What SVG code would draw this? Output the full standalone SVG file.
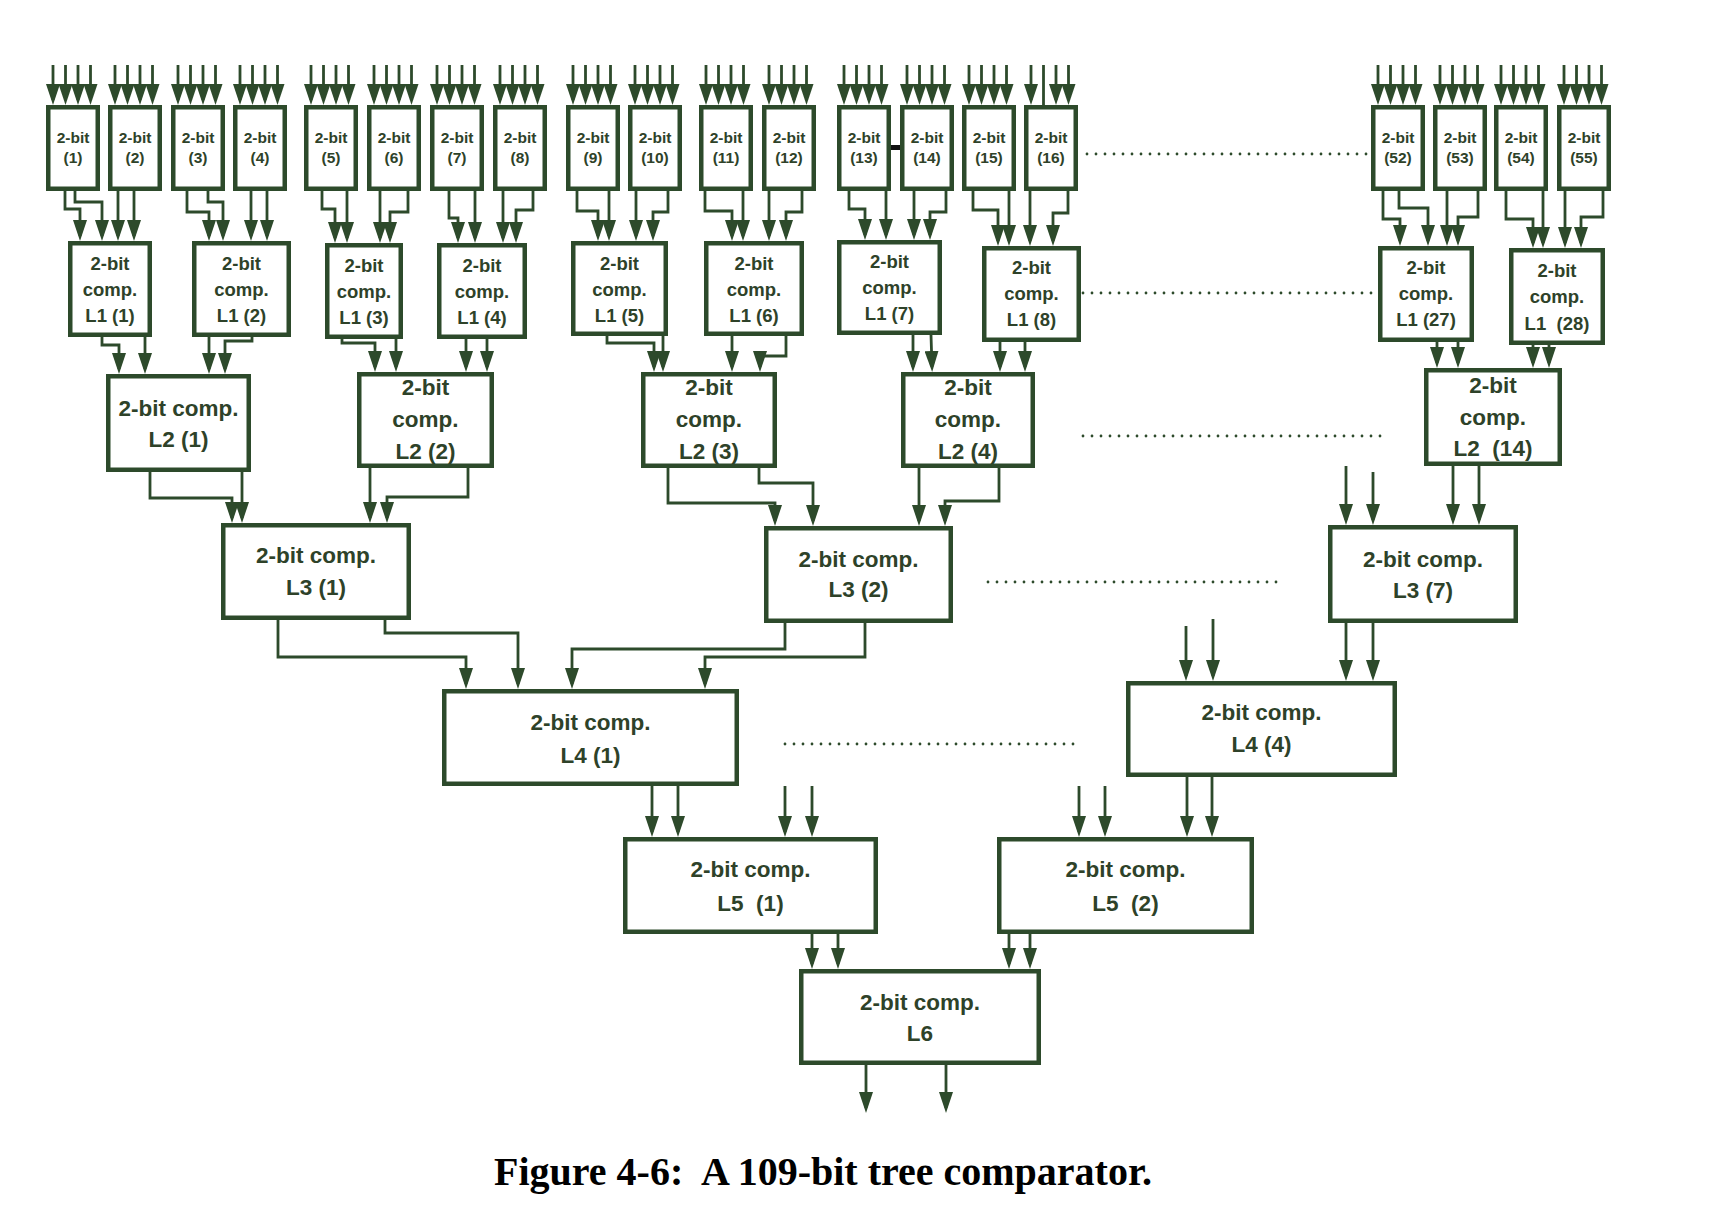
<svg xmlns="http://www.w3.org/2000/svg" width="1716" height="1212" viewBox="0 0 1716 1212">
<style>
.b{fill:#fff;stroke:#2d4a2b;stroke-width:4.5}
.t{font-family:"Liberation Sans",Arial,sans-serif;font-weight:bold;fill:#2e4229;text-anchor:middle}
.s{font-size:15.5px}.m{font-size:18.5px}.l{font-size:22.5px}
.w{fill:none;stroke:#2d4a2b;stroke-width:2.8;marker-end:url(#ah)}
.p{fill:none;stroke:#2d4a2b;stroke-width:2.8}
.dot{fill:none;stroke:#2d4a2b;stroke-width:2.8;stroke-dasharray:0 9;stroke-linecap:round}
.cap{font-family:"Liberation Serif","Times New Roman",serif;font-weight:bold;font-size:40px;fill:#000;text-anchor:middle;white-space:pre}
</style>
<defs>
<marker id="ah" markerUnits="userSpaceOnUse" markerWidth="21" markerHeight="14" viewBox="0 0 21 14" refX="16" refY="7" orient="auto"><path d="M0,0 L21,7 L0,14 z" fill="#2d4a2b"/></marker>
</defs>
<rect width="1716" height="1212" fill="#fff"/>

<g id="connectors">
<path class="w" d="M53,65V100"/><path class="w" d="M65.5,65V100"/><path class="w" d="M78,65V100"/><path class="w" d="M90.5,65V100"/>
<path class="w" d="M115,65V100"/><path class="w" d="M127.5,65V100"/><path class="w" d="M140,65V100"/><path class="w" d="M152.5,65V100"/>
<path class="w" d="M178,65V100"/><path class="w" d="M190.5,65V100"/><path class="w" d="M203,65V100"/><path class="w" d="M215.5,65V100"/>
<path class="w" d="M240,65V100"/><path class="w" d="M252.5,65V100"/><path class="w" d="M265,65V100"/><path class="w" d="M277.5,65V100"/>
<path class="w" d="M311,65V100"/><path class="w" d="M323.5,65V100"/><path class="w" d="M336,65V100"/><path class="w" d="M348.5,65V100"/>
<path class="w" d="M374,65V100"/><path class="w" d="M386.5,65V100"/><path class="w" d="M399,65V100"/><path class="w" d="M411.5,65V100"/>
<path class="w" d="M437,65V100"/><path class="w" d="M449.5,65V100"/><path class="w" d="M462,65V100"/><path class="w" d="M474.5,65V100"/>
<path class="w" d="M500,65V100"/><path class="w" d="M512.5,65V100"/><path class="w" d="M525,65V100"/><path class="w" d="M537.5,65V100"/>
<path class="w" d="M573,65V100"/><path class="w" d="M585.5,65V100"/><path class="w" d="M598,65V100"/><path class="w" d="M610.5,65V100"/>
<path class="w" d="M635,65V100"/><path class="w" d="M647.5,65V100"/><path class="w" d="M660,65V100"/><path class="w" d="M672.5,65V100"/>
<path class="w" d="M706,65V100"/><path class="w" d="M718.5,65V100"/><path class="w" d="M731,65V100"/><path class="w" d="M743.5,65V100"/>
<path class="w" d="M769,65V100"/><path class="w" d="M781.5,65V100"/><path class="w" d="M794,65V100"/><path class="w" d="M806.5,65V100"/>
<path class="w" d="M844,65V100"/><path class="w" d="M856.5,65V100"/><path class="w" d="M869,65V100"/><path class="w" d="M881.5,65V100"/>
<path class="w" d="M907,65V100"/><path class="w" d="M919.5,65V100"/><path class="w" d="M932,65V100"/><path class="w" d="M944.5,65V100"/>
<path class="w" d="M969,65V100"/><path class="w" d="M981.5,65V100"/><path class="w" d="M994,65V100"/><path class="w" d="M1006.5,65V100"/>
<path class="w" d="M1031,65V100"/><path class="p" d="M1043.5,65V106"/><path class="w" d="M1056,65V100"/><path class="w" d="M1068.5,65V100"/>
<path class="w" d="M1378,65V100"/><path class="w" d="M1390.5,65V100"/><path class="w" d="M1403,65V100"/><path class="w" d="M1415.5,65V100"/>
<path class="w" d="M1440,65V100"/><path class="w" d="M1452.5,65V100"/><path class="w" d="M1465,65V100"/><path class="w" d="M1477.5,65V100"/>
<path class="w" d="M1501,65V100"/><path class="w" d="M1513.5,65V100"/><path class="w" d="M1526,65V100"/><path class="w" d="M1538.5,65V100"/>
<path class="w" d="M1564,65V100"/><path class="w" d="M1576.5,65V100"/><path class="w" d="M1589,65V100"/><path class="w" d="M1601.5,65V100"/>

<path class="w" d="M65,191V209H80V236"/><path class="w" d="M75,191V202H102V236"/><path class="w" d="M118,191V236"/><path class="w" d="M134,191V236"/>
<path class="w" d="M187,191V212H209V236"/><path class="w" d="M208,191V202H223V236"/><path class="w" d="M251,191V236"/><path class="w" d="M267,191V236"/>
<path class="w" d="M322,191V209H335V238"/><path class="w" d="M347,191V238"/><path class="w" d="M380,191V238"/><path class="w" d="M408,191V212H390V238"/>
<path class="w" d="M449,191V218H458V238"/><path class="w" d="M475,191V238"/><path class="w" d="M503,191V238"/><path class="w" d="M533,191V210H516V238"/>
<path class="w" d="M577,191V211H598V236"/><path class="w" d="M609,191V236"/><path class="w" d="M636,191V236"/><path class="w" d="M668,191V212H653V236"/>
<path class="w" d="M705,191V211H732V236"/><path class="w" d="M743,191V236"/><path class="w" d="M769,191V236"/><path class="w" d="M802,191V212H786V236"/>
<path class="w" d="M849,191V209H865V235"/><path class="w" d="M886,191V235"/><path class="w" d="M914,191V235"/><path class="w" d="M946,191V212H930V235"/>
<path class="w" d="M973,191V210H998V241"/><path class="w" d="M1009,191V241"/><path class="w" d="M1030,191V241"/><path class="w" d="M1068,191V213H1053V241"/>
<path class="w" d="M1383,191V219H1400V241"/><path class="w" d="M1399,191V208H1428V241"/><path class="w" d="M1447,191V241"/><path class="w" d="M1478,191V217H1458V241"/>
<path class="w" d="M1506,191V219H1533V243"/><path class="w" d="M1543,191V243"/><path class="w" d="M1565,191V243"/><path class="w" d="M1603,191V217H1581V243"/>

<path class="w" d="M102,337V345H119V369"/><path class="w" d="M145,337V369"/><path class="w" d="M209,337V369"/><path class="w" d="M252,337V341H225V369"/>
<path class="w" d="M342,339V343H375V367"/><path class="w" d="M396,339V367"/><path class="w" d="M466,339V367"/><path class="w" d="M487,339V367"/>
<path class="w" d="M607,336V343H654V367"/><path class="w" d="M663,336V367"/><path class="w" d="M732,336V367"/><path class="w" d="M786,336V356H760V367"/>
<path class="w" d="M913,335V367"/><path class="w" d="M931,335L932,367"/><path class="w" d="M1000,342V367"/><path class="w" d="M1025,342V367"/>
<path class="w" d="M1437,342V363"/><path class="w" d="M1458,342V363"/><path class="w" d="M1533,345V363"/><path class="w" d="M1549,345V363"/>

<path class="w" d="M150,472V498H232V518"/><path class="w" d="M242,472V518"/><path class="w" d="M370,468V518"/><path class="w" d="M468,468V497H387V518"/>
<path class="w" d="M668,468V503H775V521"/><path class="w" d="M759,468V483H813V521"/><path class="w" d="M919,468V521"/><path class="w" d="M999,468V501H945V521"/>
<path class="w" d="M1346,466V520"/><path class="w" d="M1373,472V520"/><path class="w" d="M1453,466V520"/><path class="w" d="M1479,466V520"/>

<path class="w" d="M278,620V657H466V684"/><path class="w" d="M385,620V633H518V684"/><path class="w" d="M785,623V649H572V684"/><path class="w" d="M865,623V657H705V684"/>
<path class="w" d="M1186,626V676"/><path class="w" d="M1213,619V676"/><path class="w" d="M1346,623V676"/><path class="w" d="M1373,623V676"/>

<path class="w" d="M652,786V832"/><path class="w" d="M678,786V832"/><path class="w" d="M785,786V832"/><path class="w" d="M812,786V832"/>
<path class="w" d="M1079,786V832"/><path class="w" d="M1105,786V832"/><path class="w" d="M1187,777V832"/><path class="w" d="M1212,777V832"/>

<path class="w" d="M812,934V964"/><path class="w" d="M838,934V964"/><path class="w" d="M1009,934V964"/><path class="w" d="M1030,934V964"/>

<path class="w" d="M866,1065V1108"/><path class="w" d="M946,1065V1108"/>
</g>

<g id="dots">
<path class="dot" d="M1087,154H1368"/>
<path class="dot" d="M1083,293H1377"/>
<path class="dot" d="M1083,436H1381"/>
<path class="dot" d="M988,582H1284"/>
<path class="dot" d="M785,744H1081"/>
<rect x="888" y="145" width="15" height="5" fill="#111"/>
</g>

<g id="n1"><rect class="b" x="48.25" y="107.25" width="49.5" height="81.5"/><text class="t s" x="73" y="143">2-bit</text><text class="t s" x="73" y="163">(1)</text></g>
<g id="n2"><rect class="b" x="110.25" y="107.25" width="49.5" height="81.5"/><text class="t s" x="135" y="143">2-bit</text><text class="t s" x="135" y="163">(2)</text></g>
<g id="n3"><rect class="b" x="173.25" y="107.25" width="49.5" height="81.5"/><text class="t s" x="198" y="143">2-bit</text><text class="t s" x="198" y="163">(3)</text></g>
<g id="n4"><rect class="b" x="235.25" y="107.25" width="49.5" height="81.5"/><text class="t s" x="260" y="143">2-bit</text><text class="t s" x="260" y="163">(4)</text></g>
<g id="n5"><rect class="b" x="306.25" y="107.25" width="49.5" height="81.5"/><text class="t s" x="331" y="143">2-bit</text><text class="t s" x="331" y="163">(5)</text></g>
<g id="n6"><rect class="b" x="369.25" y="107.25" width="49.5" height="81.5"/><text class="t s" x="394" y="143">2-bit</text><text class="t s" x="394" y="163">(6)</text></g>
<g id="n7"><rect class="b" x="432.25" y="107.25" width="49.5" height="81.5"/><text class="t s" x="457" y="143">2-bit</text><text class="t s" x="457" y="163">(7)</text></g>
<g id="n8"><rect class="b" x="495.25" y="107.25" width="49.5" height="81.5"/><text class="t s" x="520" y="143">2-bit</text><text class="t s" x="520" y="163">(8)</text></g>
<g id="n9"><rect class="b" x="568.25" y="107.25" width="49.5" height="81.5"/><text class="t s" x="593" y="143">2-bit</text><text class="t s" x="593" y="163">(9)</text></g>
<g id="n10"><rect class="b" x="630.25" y="107.25" width="49.5" height="81.5"/><text class="t s" x="655" y="143">2-bit</text><text class="t s" x="655" y="163">(10)</text></g>
<g id="n11"><rect class="b" x="701.25" y="107.25" width="49.5" height="81.5"/><text class="t s" x="726" y="143">2-bit</text><text class="t s" x="726" y="163">(11)</text></g>
<g id="n12"><rect class="b" x="764.25" y="107.25" width="49.5" height="81.5"/><text class="t s" x="789" y="143">2-bit</text><text class="t s" x="789" y="163">(12)</text></g>
<g id="n13"><rect class="b" x="839.25" y="107.25" width="49.5" height="81.5"/><text class="t s" x="864" y="143">2-bit</text><text class="t s" x="864" y="163">(13)</text></g>
<g id="n14"><rect class="b" x="902.25" y="107.25" width="49.5" height="81.5"/><text class="t s" x="927" y="143">2-bit</text><text class="t s" x="927" y="163">(14)</text></g>
<g id="n15"><rect class="b" x="964.25" y="107.25" width="49.5" height="81.5"/><text class="t s" x="989" y="143">2-bit</text><text class="t s" x="989" y="163">(15)</text></g>
<g id="n16"><rect class="b" x="1026.25" y="107.25" width="49.5" height="81.5"/><text class="t s" x="1051" y="143">2-bit</text><text class="t s" x="1051" y="163">(16)</text></g>
<g id="n52"><rect class="b" x="1373.25" y="107.25" width="49.5" height="81.5"/><text class="t s" x="1398" y="143">2-bit</text><text class="t s" x="1398" y="163">(52)</text></g>
<g id="n53"><rect class="b" x="1435.25" y="107.25" width="49.5" height="81.5"/><text class="t s" x="1460" y="143">2-bit</text><text class="t s" x="1460" y="163">(53)</text></g>
<g id="n54"><rect class="b" x="1496.25" y="107.25" width="49.5" height="81.5"/><text class="t s" x="1521" y="143">2-bit</text><text class="t s" x="1521" y="163">(54)</text></g>
<g id="n55"><rect class="b" x="1559.25" y="107.25" width="49.5" height="81.5"/><text class="t s" x="1584" y="143">2-bit</text><text class="t s" x="1584" y="163">(55)</text></g>

<g id="l1-1"><rect class="b" x="70.25" y="243.25" width="79.5" height="91.5"/><text class="t m" x="110" y="270">2-bit</text><text class="t m" x="110" y="296">comp.</text><text class="t m" x="110" y="322">L1 (1)</text></g>
<g id="l1-2"><rect class="b" x="194.25" y="243.25" width="94.5" height="91.5"/><text class="t m" x="241.5" y="270">2-bit</text><text class="t m" x="241.5" y="296">comp.</text><text class="t m" x="241.5" y="322">L1 (2)</text></g>
<g id="l1-3"><rect class="b" x="327.25" y="245.25" width="73.5" height="91.5"/><text class="t m" x="364" y="272">2-bit</text><text class="t m" x="364" y="298">comp.</text><text class="t m" x="364" y="324">L1 (3)</text></g>
<g id="l1-4"><rect class="b" x="439.25" y="245.25" width="85.5" height="91.5"/><text class="t m" x="482" y="272">2-bit</text><text class="t m" x="482" y="298">comp.</text><text class="t m" x="482" y="324">L1 (4)</text></g>
<g id="l1-5"><rect class="b" x="573.25" y="243.25" width="92.5" height="90.5"/><text class="t m" x="619.5" y="270">2-bit</text><text class="t m" x="619.5" y="296">comp.</text><text class="t m" x="619.5" y="322">L1 (5)</text></g>
<g id="l1-6"><rect class="b" x="706.25" y="243.25" width="95.5" height="90.5"/><text class="t m" x="754" y="270">2-bit</text><text class="t m" x="754" y="296">comp.</text><text class="t m" x="754" y="322">L1 (6)</text></g>
<g id="l1-7"><rect class="b" x="839.25" y="242.25" width="100.5" height="90.5"/><text class="t m" x="889.5" y="268">2-bit</text><text class="t m" x="889.5" y="294">comp.</text><text class="t m" x="889.5" y="320">L1 (7)</text></g>
<g id="l1-8"><rect class="b" x="984.25" y="248.25" width="94.5" height="91.5"/><text class="t m" x="1031.5" y="274">2-bit</text><text class="t m" x="1031.5" y="300">comp.</text><text class="t m" x="1031.5" y="326">L1 (8)</text></g>
<g id="l1-27"><rect class="b" x="1380.25" y="248.25" width="91.5" height="91.5"/><text class="t m" x="1426" y="274">2-bit</text><text class="t m" x="1426" y="300">comp.</text><text class="t m" x="1426" y="326">L1 (27)</text></g>
<g id="l1-28"><rect class="b" x="1511.25" y="250.25" width="91.5" height="92.5"/><text class="t m" x="1557" y="277">2-bit</text><text class="t m" x="1557" y="303">comp.</text><text class="t m" x="1557" y="330" style="white-space:pre">L1  (28)</text></g>

<g id="l2-1"><rect class="b" x="108.25" y="376.25" width="140.5" height="93.5"/><text class="t l" x="178.5" y="416">2-bit comp.</text><text class="t l" x="178.5" y="447">L2 (1)</text></g>
<g id="l2-2"><rect class="b" x="359.25" y="374.25" width="132.5" height="91.5"/><text class="t l" x="425.5" y="395">2-bit</text><text class="t l" x="425.5" y="427">comp.</text><text class="t l" x="425.5" y="459">L2 (2)</text></g>
<g id="l2-3"><rect class="b" x="643.25" y="374.25" width="131.5" height="91.5"/><text class="t l" x="709" y="395">2-bit</text><text class="t l" x="709" y="427">comp.</text><text class="t l" x="709" y="459">L2 (3)</text></g>
<g id="l2-4"><rect class="b" x="903.25" y="374.25" width="129.5" height="91.5"/><text class="t l" x="968" y="395">2-bit</text><text class="t l" x="968" y="427">comp.</text><text class="t l" x="968" y="459">L2 (4)</text></g>
<g id="l2-14"><rect class="b" x="1426.25" y="370.25" width="133.5" height="93.5"/><text class="t l" x="1493" y="393">2-bit</text><text class="t l" x="1493" y="425">comp.</text><text class="t l" x="1493" y="456" style="white-space:pre">L2  (14)</text></g>

<g id="l3-1"><rect class="b" x="223.25" y="525.25" width="185.5" height="92.5"/><text class="t l" x="316" y="563">2-bit comp.</text><text class="t l" x="316" y="595">L3 (1)</text></g>
<g id="l3-2"><rect class="b" x="766.25" y="528.25" width="184.5" height="92.5"/><text class="t l" x="858.5" y="567">2-bit comp.</text><text class="t l" x="858.5" y="597">L3 (2)</text></g>
<g id="l3-7"><rect class="b" x="1330.25" y="527.25" width="185.5" height="93.5"/><text class="t l" x="1423" y="567">2-bit comp.</text><text class="t l" x="1423" y="598">L3 (7)</text></g>

<g id="l4-1"><rect class="b" x="444.25" y="691.25" width="292.5" height="92.5"/><text class="t l" x="590.5" y="730">2-bit comp.</text><text class="t l" x="590.5" y="763">L4 (1)</text></g>
<g id="l4-4"><rect class="b" x="1128.25" y="683.25" width="266.5" height="91.5"/><text class="t l" x="1261.5" y="720">2-bit comp.</text><text class="t l" x="1261.5" y="752">L4 (4)</text></g>

<g id="l5-1"><rect class="b" x="625.25" y="839.25" width="250.5" height="92.5"/><text class="t l" x="750.5" y="877">2-bit comp.</text><text class="t l" x="750.5" y="911" style="white-space:pre">L5  (1)</text></g>
<g id="l5-2"><rect class="b" x="999.25" y="839.25" width="252.5" height="92.5"/><text class="t l" x="1125.5" y="877">2-bit comp.</text><text class="t l" x="1125.5" y="911" style="white-space:pre">L5  (2)</text></g>

<g id="l6"><rect class="b" x="801.25" y="971.25" width="237.5" height="91.5"/><text class="t l" x="920" y="1010">2-bit comp.</text><text class="t l" x="920" y="1041">L6</text></g>

<text class="cap" x="823" y="1185">Figure 4-6:  A 109-bit tree comparator.</text>
</svg>
